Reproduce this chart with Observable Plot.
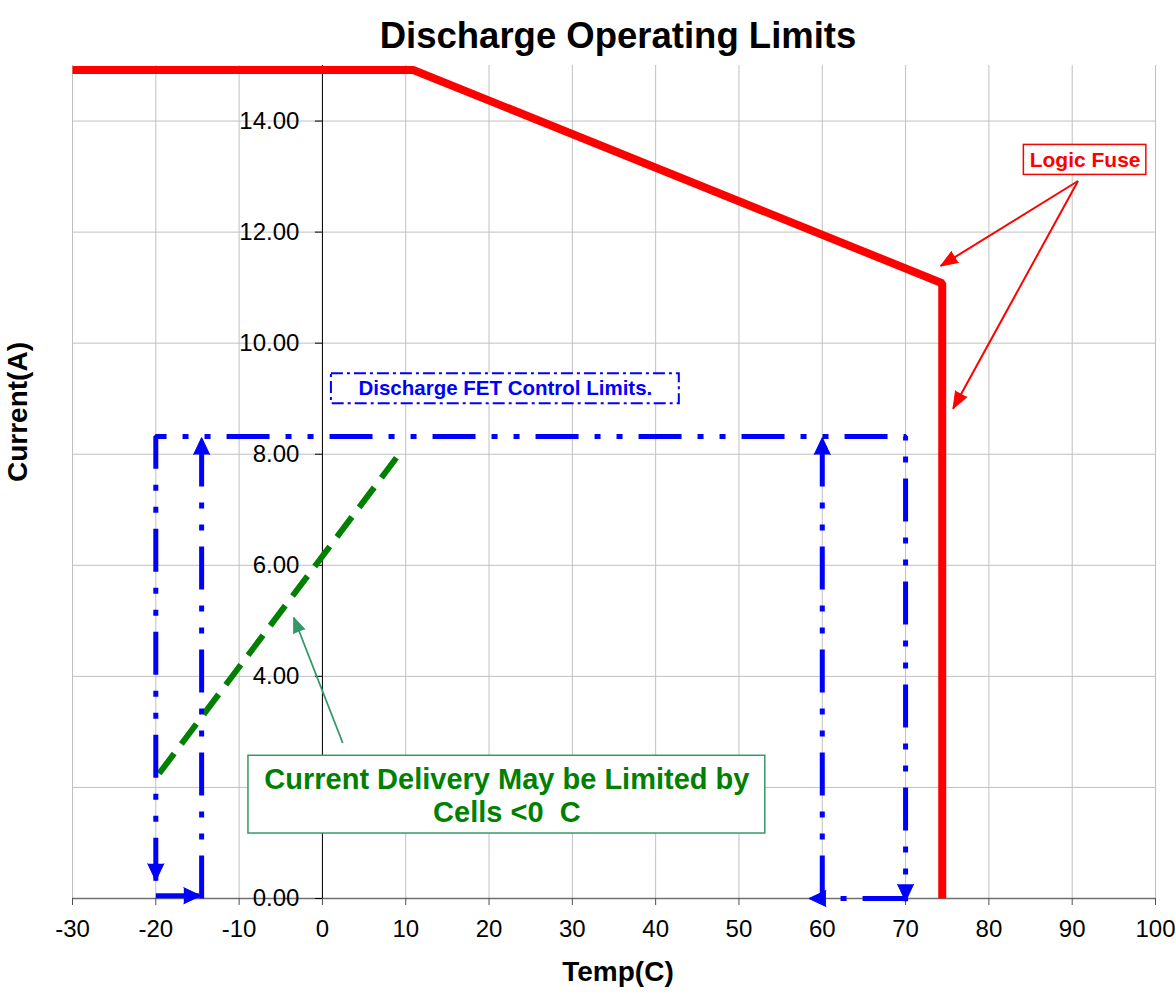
<!DOCTYPE html>
<html>
<head>
<meta charset="utf-8">
<script src="https://cdn.jsdelivr.net/npm/d3@7"></script>
<script src="https://cdn.jsdelivr.net/npm/@observablehq/plot@0.6"></script>
<style>
  body { margin: 0; background: #fff; }
  #chart svg { display: block; }
</style>
</head>
<body>
<div id="chart"></div>
<script>
// ---------- text ----------
const chartTitle = "Discharge Operating Limits";
const xTitle = "Temp(C)";
const yTitle = "Current(A)";

// ---------- axes ----------
const xTicks = [-30, -20, -10, 0, 10, 20, 30, 40, 50, 60, 70, 80, 90, 100];
const yTicks = [0, 2, 4, 6, 8, 10, 12, 14];
const xDomain = [-30, 100];
const yDomain = [0, 15];

// ---------- Logic fuse limit (red) ----------
const fuseTemp    = [-30, 10.9, 74.4, 74.4];
const fuseCurrent = [14.92, 14.92, 11.08, 0];

// ---------- Discharge FET control limits (blue, arrowed) ----------
const fetOuterTemp     = [-20, -20, 70, 70];
const fetOuterCurrent  = [0.32, 8.32, 8.32, -0.05];
const fetLowLeftTemp   = [-20, -14.6];
const fetLowLeftCurrent= [0.05, 0.05];
const fetRiseLeftTemp  = [-14.5, -14.5];
const fetRiseLeftCurrent = [0, 8.3];
const fetLowRightTemp  = [70, 58.4];
const fetLowRightCurrent = [0, 0];
const fetRiseRightTemp = [60, 60];
const fetRiseRightCurrent = [0, 8.3];

// ---------- Cell limit below 0 C (green dashed) ----------
const cellTemp    = [-19.6, 9.6];
const cellCurrent = [2.25, 8.08];

// ---------- annotations (data units) ----------
const fuseLabelBox   = {x1: 84.2, x2: 98.9, y1: 13.03, y2: 13.57};
const fuseLabelText  = "Logic Fuse";
const fuseArrowFrom  = [90.7, 12.92];
const fuseArrowTips  = [[74.2, 11.39], [75.7, 8.82]];

const fetLabelBox    = {x1: 1.08, x2: 42.84, y1: 8.91, y2: 9.45};
const fetLabelText   = "Discharge FET Control Limits.";

const cellLabelBox   = {x1: -8.88, x2: 53.16, y1: 1.17, y2: 2.57};
const cellLabelText  = "Current Delivery May be Limited by\nCells <0  C";
const cellArrowFrom  = [2.44, 2.80];
const cellArrowTip   = [-3.44, 5.06];

// ---------- layout ----------
const W = 1175, H = 998;
const M = {top: 65, right: 20, bottom: 100, left: 72};
const kx = (W - M.left - M.right) / (xDomain[1] - xDomain[0]);
const ky = (H - M.top - M.bottom) / (yDomain[1] - yDomain[0]);
const tickLen = 7;
const yLabelGap = 23;

const BLUE = "#0000ff", RED = "#ff0000", GREEN = "#008000", SEA = "#339966";
const FONT = "'Liberation Sans', Arial, Helvetica, sans-serif";

const angle = (x0, y0, x1, y1) =>
  Math.atan2((x1 - x0) * kx, (y1 - y0) * ky) * 180 / Math.PI;

// build tables
const zip = (id, xs, ys) => xs.map((x, i) => ({id, x, y: ys[i]}));
const fuseRows = zip("fuse", fuseTemp, fuseCurrent);
const fetRows = [
  ...zip("outer", fetOuterTemp, fetOuterCurrent),
  ...zip("lowL", fetLowLeftTemp, fetLowLeftCurrent),
  ...zip("riseL", fetRiseLeftTemp, fetRiseLeftCurrent),
  ...zip("lowR", fetLowRightTemp, fetLowRightCurrent),
  ...zip("riseR", fetRiseRightTemp, fetRiseRightCurrent)
];
const cellRows = zip("cell", cellTemp, cellCurrent);

const headAtEnd = (xs, ys) => {
  const n = xs.length;
  return {x: xs[n - 1], y: ys[n - 1], a: angle(xs[n - 2], ys[n - 2], xs[n - 1], ys[n - 1])};
};
const headAtStart = (xs, ys) => ({x: xs[0], y: ys[0], a: angle(xs[1], ys[1], xs[0], ys[0])});

const blueHeads = [
  headAtStart(fetOuterTemp, fetOuterCurrent),
  headAtEnd(fetOuterTemp, fetOuterCurrent),
  headAtEnd(fetLowLeftTemp, fetLowLeftCurrent),
  headAtEnd(fetRiseLeftTemp, fetRiseLeftCurrent),
  headAtEnd(fetLowRightTemp, fetLowRightCurrent),
  headAtEnd(fetRiseRightTemp, fetRiseRightCurrent)
];

const fuseArrows = fuseArrowTips.map(([tx, ty]) => ({
  x1: fuseArrowFrom[0], y1: fuseArrowFrom[1], x2: tx, y2: ty,
  a: angle(fuseArrowFrom[0], fuseArrowFrom[1], tx, ty)
}));
const cellArrows = [{
  x1: cellArrowFrom[0], y1: cellArrowFrom[1], x2: cellArrowTip[0], y2: cellArrowTip[1],
  a: angle(cellArrowFrom[0], cellArrowFrom[1], cellArrowTip[0], cellArrowTip[1])
}];

// y tick labels that sit under the opaque note box are not visible in the reference
const yLabelHidden = d => d >= cellLabelBox.y1 && d <= cellLabelBox.y2 &&
  cellLabelBox.x1 < -yLabelGap / kx;
const yLabels = yTicks.filter(d => !yLabelHidden(d));

const fmt = d3.format(".2f");

const chart = Plot.plot({
  width: W,
  height: H,
  marginTop: M.top,
  marginRight: M.right,
  marginBottom: M.bottom,
  marginLeft: M.left,
  style: {fontFamily: FONT, background: "#fff", overflow: "visible"},
  x: {domain: xDomain, axis: null},
  y: {domain: yDomain, axis: null},
  marks: [
    // gridlines
    Plot.ruleX(xTicks, {x: d => d, y1: yDomain[0], y2: yDomain[1], stroke: "#c0c0c0", strokeWidth: 1}),
    Plot.ruleY(yTicks.filter(d => d > 0), {y: d => d, x1: xDomain[0], x2: xDomain[1], stroke: "#c0c0c0", strokeWidth: 1}),
    // x axis (at y = 0)
    Plot.ruleY([0], {x1: xDomain[0], x2: xDomain[1], stroke: "#707070", strokeWidth: 1.3}),
    Plot.ruleX(xTicks, {x: d => d, y1: 0, y2: -tickLen / ky, stroke: "#505050", strokeWidth: 1}),
    Plot.text(xTicks, {x: d => d, y: 0, dy: 31, text: d => String(d), fontSize: 24, fill: "#000"}),
    // y axis (at x = 0)
    Plot.ruleX([0], {y1: yDomain[0], y2: yDomain[1], stroke: "#000", strokeWidth: 1}),
    Plot.ruleY(yTicks, {y: d => d, x1: -tickLen / kx, x2: 0, stroke: "#000", strokeWidth: 1}),
    Plot.text(yLabels, {x: 0, y: d => d, dx: -yLabelGap, text: d => fmt(d), textAnchor: "end", fontSize: 24, fill: "#000"}),

    // green cell limit
    Plot.line(cellRows, {x: "x", y: "y", stroke: GREEN, strokeWidth: 6, strokeDasharray: "25,12", strokeLinecap: "butt"}),

    // blue FET control limits
    Plot.line(fetRows, {x: "x", y: "y", z: "id", stroke: BLUE, strokeWidth: 5,
      strokeDasharray: "43,16,6,16,6,16", strokeLinecap: "butt", strokeLinejoin: "miter"}),
    Plot.vector(blueHeads, {x: "x", y: "y", rotate: "a", length: 17, r: 8, shape: "spike",
      anchor: "end", fill: BLUE, stroke: BLUE, strokeWidth: 1}),

    // red logic fuse
    Plot.line(fuseRows, {x: "x", y: "y", stroke: RED, strokeWidth: 8, strokeLinejoin: "miter", strokeLinecap: "butt"}),

    // FET label box
    Plot.rect([fetLabelBox], {x1: "x1", x2: "x2", y1: "y1", y2: "y2", fill: "#fff", stroke: BLUE,
      strokeWidth: 2, strokeDasharray: "12,4,3,4"}),
    Plot.text([fetLabelText], {x: (fetLabelBox.x1 + fetLabelBox.x2) / 2, y: (fetLabelBox.y1 + fetLabelBox.y2) / 2,
      text: d => d, fontSize: 20.5, fontWeight: "bold", fill: BLUE}),

    // Logic fuse label and arrows
    Plot.link(fuseArrows, {x1: "x1", y1: "y1", x2: "x2", y2: "y2", stroke: RED, strokeWidth: 2}),
    Plot.vector(fuseArrows, {x: "x2", y: "y2", rotate: "a", length: 17, r: 6.5, shape: "spike",
      anchor: "end", fill: RED, stroke: RED, strokeWidth: 1}),
    Plot.rect([fuseLabelBox], {x1: "x1", x2: "x2", y1: "y1", y2: "y2", fill: "#fff", stroke: RED, strokeWidth: 1.5}),
    Plot.text([fuseLabelText], {x: (fuseLabelBox.x1 + fuseLabelBox.x2) / 2, y: (fuseLabelBox.y1 + fuseLabelBox.y2) / 2,
      text: d => d, fontSize: 21, fontWeight: "bold", fill: RED}),

    // cell label and arrow
    Plot.link(cellArrows, {x1: "x1", y1: "y1", x2: "x2", y2: "y2", stroke: SEA, strokeWidth: 1.8}),
    Plot.vector(cellArrows, {x: "x2", y: "y2", rotate: "a", length: 15, r: 6, shape: "spike",
      anchor: "end", fill: SEA, stroke: SEA, strokeWidth: 1}),
    Plot.rect([cellLabelBox], {x1: "x1", x2: "x2", y1: "y1", y2: "y2", fill: "#fff", stroke: SEA, strokeWidth: 1.5}),
    Plot.text([cellLabelText], {x: (cellLabelBox.x1 + cellLabelBox.x2) / 2, y: (cellLabelBox.y1 + cellLabelBox.y2) / 2,
      text: d => d, fontSize: 29, lineHeight: 1.14, fontWeight: "bold", fill: GREEN}),

    // titles
    Plot.text([chartTitle], {frameAnchor: "top", dy: -43, dx: 4, text: d => d, fontSize: 36.5, fontWeight: "bold", fill: "#000"}),
    Plot.text([xTitle], {frameAnchor: "bottom", dy: 82, dx: 4, text: d => d, fontSize: 28, fontWeight: "bold", fill: "#000"}),
    Plot.text([yTitle], {frameAnchor: "left", dx: -54, rotate: -90, text: d => d, fontSize: 28, fontWeight: "bold", fill: "#000"})
  ]
});
document.getElementById("chart").appendChild(chart);
</script>
</body>
</html>
